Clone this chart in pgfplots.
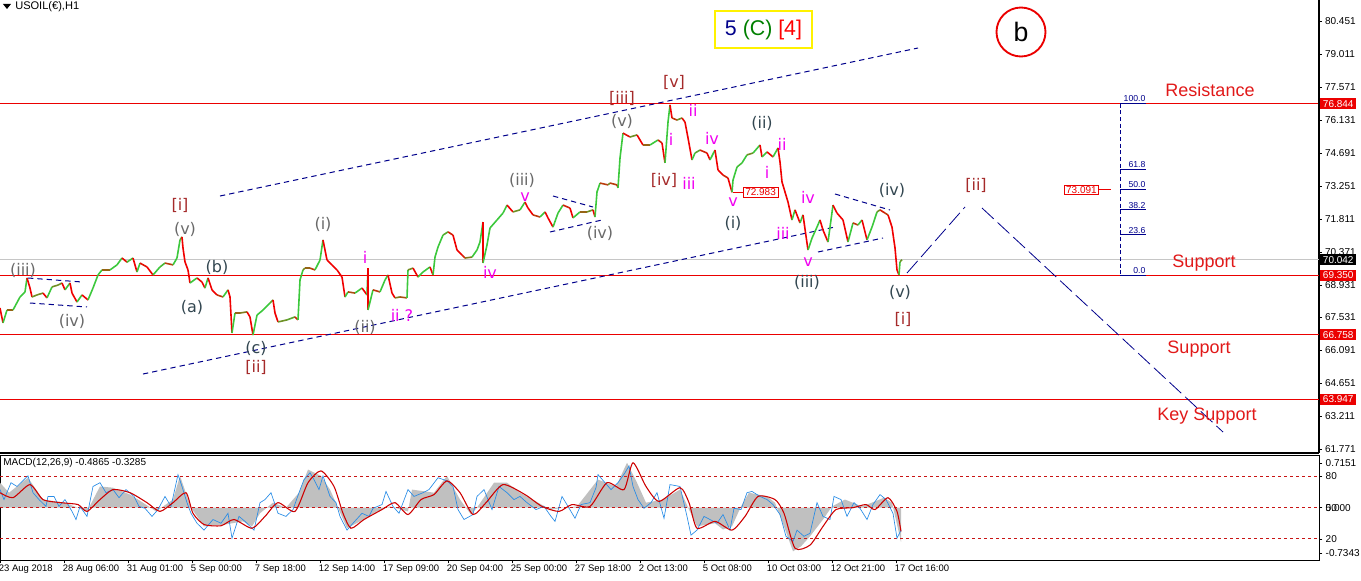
\documentclass[border=0pt]{standalone}
\usepackage{pgfplots}
\pgfplotsset{compat=1.18}
\usepackage{pgfplotstable}
\usepackage{fontspec}
\setmainfont{Liberation Sans}
\newfontfamily\wavefont{DejaVu Sans}

\definecolor{navy}{RGB}{0,0,139}
\definecolor{lvlred}{RGB}{235,0,0}
\definecolor{txtred}{RGB}{225,25,25}
\definecolor{wgray}{RGB}{105,105,105}
\definecolor{wslate}{RGB}{50,70,80}
\definecolor{wbrown}{RGB}{165,42,42}
\definecolor{wmag}{RGB}{240,0,240}
\definecolor{upgreen}{RGB}{60,200,60}
\definecolor{dnred}{RGB}{240,0,0}
\definecolor{barbrown}{RGB}{150,100,20}
\definecolor{oscblue}{RGB}{40,140,230}
\definecolor{sigred}{RGB}{205,0,0}
\definecolor{dashred}{RGB}{200,20,20}
\definecolor{histgray}{RGB}{192,192,192}

\newcommand\pxfont{\fontsize{7.5}{9}\selectfont}
\newcommand\dtfont{\fontsize{7.1}{9}\selectfont}
\newcommand\wfont{\wavefont\fontsize{12}{14}\selectfont}
\newcommand\srfont{\fontsize{13.5}{16}\selectfont}
\newcommand\py[1]{81.367-#1/22.92}

% hourly USOIL path (x = bar slot, y = price)
\pgfplotstableread{
x y
0 67.93
3 67.28
7 67.84
13 67.84
20 68.41
25 68.63
27 69.24
30 68.80
32 68.41
37 68.50
43 68.58
47 68.37
52 68.85
58 68.93
62 69.02
65 68.72
70 69.02
72 68.58
77 68.19
82 68.50
88 68.28
93 68.80
98 69.37
102 69.59
110 69.59
117 69.81
122 70.11
127 69.93
133 70.11
137 69.50
140 69.89
147 69.72
153 69.37
160 69.72
165 69.89
173 69.81
177 70.11
180 70.90
182 71.03
183 70.55
185 69.94
188 69.59
190 69.02
197 69.24
202 69.06
205 68.80
208 69.24
212 68.72
217 68.50
223 68.41
228 68.72
230 68.41
232 66.84
235 67.71
240 67.71
247 67.76
250 67.54
253 66.75
257 67.62
263 67.84
270 68.15
273 68.28
275 67.71
278 67.32
287 67.41
295 67.54
298 67.41
300 69.15
303 69.59
305 69.67
310 69.67
315 69.59
320 70.02
323 70.90
327 70.02
332 69.81
337 69.59
342 69.28
345 68.41
348 68.63
355 68.58
362 68.80
367 68.50
368 69.67
368 67.84
373 68.72
380 68.63
385 69.15
388 69.37
392 68.58
395 68.37
400 68.41
407 68.37
408 69.59
413 69.67
418 69.28
423 69.50
430 69.72
433 69.37
435 70.15
438 70.59
443 71.11
448 71.25
453 71.11
457 70.46
462 70.24
465 70.11
472 70.15
477 70.46
480 70.81
483 71.68
483 69.89
487 70.68
490 71.42
497 71.77
503 72.07
507 72.42
513 72.12
520 72.21
525 72.55
528 72.29
533 71.99
540 71.90
545 72.12
548 71.86
553 71.46
558 72.07
563 72.42
570 72.29
573 71.86
580 72.12
587 72.12
593 72.21
595 71.90
597 72.99
600 73.38
608 73.30
610 73.38
617 73.30
618 73.17
620 74.47
623 75.56
630 75.39
637 75.48
643 75.04
650 75.04
658 75.26
662 75.13
665 74.26
668 76.04
670 76.79
672 76.22
677 76.13
682 76.22
685 76.04
688 75.35
692 74.39
695 74.69
700 74.82
707 74.69
710 74.39
715 74.82
718 73.95
723 73.73
728 73.60
732 72.98
733 73.51
737 74.08
742 74.26
747 74.61
753 74.69
760 75.04
762 74.52
767 74.74
773 74.52
778 74.91
780 74.30
782 73.43
785 72.99
788 72.55
792 71.77
795 72.21
800 71.64
803 71.99
808 70.46
812 70.98
817 71.46
820 71.77
823 71.33
828 70.81
833 72.42
837 72.07
843 71.77
848 70.81
853 71.64
858 71.55
862 71.77
867 70.90
872 71.46
877 72.12
880 72.21
885 72.07
888 71.99
892 71.46
895 70.55
897 69.59
899 69.37
900 69.94
902 70.04
}\price
\pgfplotstablecreatecol[create col/expr={\nextrow{y}-\thisrow{y}}]{d}\price

% MACD panel
\pgfplotstableread{
x y
0 0
0 0.40
9 0.24
28 0.48
43 0.13
65 0.08
87 -0.06
100 0.34
113 0.32
130 0.21
143 0.08
156 -0.06
173 0.13
180 0.51
191 0.00
204 -0.30
225 -0.27
243 -0.22
252 -0.30
260 -0.09
273 0.08
286 0.00
299 0.24
308 0.61
321 0.51
330 0.29
338 0.00
347 -0.33
360 -0.22
377 -0.06
390 0.02
408 -0.06
412 0.29
434 0.24
447 0.51
460 0.13
471 -0.11
477 0.00
494 0.40
507 0.40
520 0.24
538 0.08
551 -0.03
564 0.00
577 0.02
598 0.45
616 0.34
627 0.72
637 0.40
646 0.08
663 0.13
680 0.29
689 -0.03
697 -0.30
715 -0.25
723 -0.35
732 -0.30
741 0.02
749 0.24
767 0.18
775 0.08
784 -0.30
793 -0.70
801 -0.62
810 -0.46
823 -0.19
832 0.02
845 0.13
862 0.02
875 0.10
884 0.16
892 0.08
901 -0.55
901 0
}\hist

\pgfplotstableread{
x y
0 0.24
13 0.16
30 0.37
43 0.13
61 0.08
78 0.05
87 -0.06
100 0.13
113 0.29
130 0.24
147 0.08
160 -0.06
173 0.08
186 0.24
193 -0.09
204 -0.27
221 -0.29
234 -0.19
252 -0.33
265 -0.14
278 0.08
295 -0.06
308 0.40
321 0.59
334 0.34
343 -0.09
351 -0.33
364 -0.19
382 -0.03
395 0.08
408 -0.11
421 0.13
434 0.21
447 0.43
460 0.24
473 -0.11
486 0.08
503 0.37
525 0.21
542 0.02
559 -0.06
572 0.05
590 0.02
607 0.40
624 0.29
633 0.72
646 0.34
659 0.10
680 0.32
689 0.08
697 -0.33
715 -0.22
732 -0.36
745 -0.14
758 0.18
775 0.13
784 -0.09
795 -0.65
810 -0.60
823 -0.30
836 -0.03
853 0.00
866 0.05
875 -0.03
888 0.16
897 -0.06
901 -0.38
}\signal

\pgfplotstableread{
x y
0 0.29
4 0.13
11 0.40
17 0.34
24 0.45
28 0.51
33 0.24
39 0.13
46 0.02
48 0.18
54 0.18
59 0.02
65 0.13
72 -0.06
76 -0.19
80 0.02
87 -0.14
93 0.34
100 0.40
106 0.24
113 0.29
119 0.16
126 0.29
134 0.18
139 0.02
145 -0.01
152 -0.14
158 -0.03
165 0.18
171 0.02
178 0.53
182 0.34
187 0.08
191 -0.09
197 -0.25
204 -0.36
213 -0.19
221 -0.25
228 -0.09
232 -0.49
239 -0.14
245 -0.22
254 -0.36
260 0.08
265 0.13
271 0.24
278 -0.09
286 -0.14
293 -0.03
299 0.24
304 0.45
310 0.56
314 0.45
319 0.29
323 0.51
330 0.18
336 0.08
340 -0.14
347 -0.36
353 -0.25
362 -0.09
369 -0.14
373 -0.01
382 0.05
386 0.26
393 0.02
399 -0.09
408 0.29
414 0.18
423 0.24
429 0.29
438 0.48
447 0.43
453 0.34
458 -0.03
464 -0.19
473 -0.11
477 0.18
484 0.29
492 -0.03
499 0.34
507 0.24
514 0.13
520 0.18
527 0.08
536 -0.03
544 0.02
551 -0.14
555 -0.22
562 0.18
568 0.02
575 -0.17
581 0.05
590 0.08
596 0.32
598 0.53
605 0.40
611 0.29
618 0.40
625 0.56
629 0.67
633 0.34
638 0.13
644 -0.01
651 0.08
657 0.24
664 -0.17
670 0.37
680 0.34
687 -0.14
691 -0.44
697 -0.36
704 -0.14
710 -0.19
717 -0.25
723 -0.11
730 -0.36
734 -0.01
741 -0.03
747 0.24
752 0.26
760 0.18
767 0.13
773 0.05
780 -0.11
786 -0.46
793 -0.54
797 -0.36
804 -0.46
810 -0.41
817 0.08
823 -0.14
830 -0.19
834 0.18
841 0.13
847 -0.14
854 0.08
860 -0.01
867 -0.19
873 0.05
880 0.21
886 0.13
893 -0.09
897 -0.49
901 -0.36
}\osc

\begin{document}
\begin{tikzpicture}
\useasboundingbox (0,0) rectangle (1020.75pt,-435.75pt);

\begin{axis}[
  at={(0,0)}, anchor=north west,
  scale only axis, width=989.25pt, height=339.75pt,
  xmin=0, xmax=1319, ymin=61.603, ymax=81.367,
  axis x line=none, axis y line*=right,
  axis line style={black, line width=0.8pt},
  ytick={80.451,79.011,77.571,76.131,74.691,73.251,71.811,70.371,68.931,67.531,66.091,64.651,63.211,61.771},
  yticklabels={80.451,79.011,77.571,76.131,74.691,73.251,71.811,70.371,68.931,67.531,66.091,64.651,63.211,61.771},
  yticklabel style={font=\pxfont, anchor=west, xshift=-1pt},
  tick style={black, line width=0.5pt}, tick align=outside, major tick length=2pt,
  clip mode=individual,
]
% level lines
\addplot[gray!45, line width=0.75pt] coordinates {(0,70.042) (1319,70.042)};
\addplot[lvlred, line width=0.8pt] coordinates {(0,76.844) (1319,76.844)};
\addplot[lvlred, line width=0.8pt] coordinates {(0,69.350) (1319,69.350)};
\addplot[lvlred, line width=0.8pt] coordinates {(0,66.758) (1319,66.758)};
\addplot[lvlred, line width=0.8pt] coordinates {(0,63.947) (1319,63.947)};

% channels and triangles
\pgfplotsset{chan/.style={navy, line width=0.75pt, dash pattern=on 4pt off 3pt}}
\addplot[chan] coordinates {(220,72.815) (918,79.273)};
\addplot[chan] coordinates {(143,65.049) (835,71.463)};
\addplot[chan] coordinates {(28,69.238) (82,69.064)};
\addplot[chan] coordinates {(30,68.147) (87,67.973)};
\addplot[chan] coordinates {(553,72.815) (593,72.335)};
\addplot[chan] coordinates {(550,71.245) (602,71.769)};
\addplot[chan] coordinates {(835,72.903) (890,72.205)};
\addplot[chan] coordinates {(818,70.372) (883,70.983)};
% projection
\addplot[navy, line width=0.6pt, dash pattern=on 12pt off 4pt] coordinates {(907,69.456) (965,72.336)};
\addplot[navy, line width=0.6pt, dash pattern=on 12pt off 4pt] coordinates {(982,72.292) (1223,62.518)};

% fibonacci
\addplot[navy, line width=0.6pt, densely dashed] coordinates {(1120,76.844) (1120,69.35)};
\foreach \lv/\lb in {76.844/100.0, 73.981/61.8, 73.097/50.0, 72.213/38.2, 71.119/23.6, 69.35/0.0}{
  \edef\tmp{\noexpand\addplot[navy, line width=0.6pt] coordinates {(1120,\lv) (1146,\lv)};}\tmp
  \edef\tmp{\noexpand\node[anchor=south east, text=navy, font=\noexpand\fontsize{6.5}{7}\noexpand\selectfont, inner sep=1pt] at (axis cs:1147,\lv) {\lb};}\tmp
}

% price path
\addplot[mesh, shader=flat corner, line width=1.2pt, point meta=\thisrow{d},
  colormap={updn}{color=(dnred) color=(barbrown) color=(upgreen)},
  point meta min=-0.2, point meta max=0.2] table[x=x, y=y] {\price};

% boxed values
\addplot[lvlred, line width=0.6pt] coordinates {(733,72.983) (743,72.983)};
\node[draw=lvlred, fill=white, text=lvlred, font=\pxfont, inner xsep=1.5pt, inner ysep=1pt, anchor=west] at (axis cs:743,72.983) {72.983};
\addplot[lvlred, line width=0.6pt] coordinates {(1099,73.091) (1111,73.091)};
\node[draw=lvlred, fill=white, text=lvlred, font=\pxfont, inner xsep=1.5pt, inner ysep=1pt, anchor=east] at (axis cs:1099,73.091) {73.091};

% right-hand price boxes
\foreach \lv in {76.844, 69.350, 66.758, 63.947}{
  \edef\tmp{\noexpand\node[fill=lvlred, text=white, font=\noexpand\pxfont, inner xsep=2pt, inner ysep=1.4pt, anchor=west] at (axis cs:1320,\lv) {\lv};}\tmp
}
\node[fill=black, text=white, font=\pxfont, inner xsep=2pt, inner ysep=1.4pt, anchor=west] at (axis cs:1320,70.042) {70.042};
\draw[black, line width=1.8pt] (axis cs:1319,81.367) -- (axis cs:1319,{\py{200}});

% support / resistance text
\node[text=txtred, font=\srfont] at (axis cs:1210,{\py{90}}) {Resistance};
\node[text=txtred, font=\srfont] at (axis cs:1204,{\py{263}}) {Support};
\node[text=txtred, font=\srfont] at (axis cs:1199,{\py{349}}) {Support};
\node[text=txtred, font=\srfont] at (axis cs:1207,{\py{416}}) {Key Support};

% header
\fill (axis cs:3,{\py{4}}) -- (axis cs:11,{\py{4}}) -- (axis cs:7,{\py{9}}) -- cycle;
\node[anchor=west, font=\fontsize{8.3}{9}\selectfont, inner sep=0pt] at (axis cs:15,{\py{7}}) {USOIL(€),H1};
\node[draw=yellow, line width=1.6pt, fill=white, minimum width=72.75pt, minimum height=27.75pt, inner sep=0pt, font=\fontsize{16}{18}\selectfont]
  at (axis cs:763.5,{\py{29.5}}) {\textcolor{navy}{5} \textcolor{green!50!black}{(C)} \textcolor{red}{[4]}};
\node[draw=lvlred, line width=1.4pt, circle, minimum size=36.75pt, inner sep=0pt, font=\fontsize{20}{22}\selectfont]
  at (axis cs:1021,{\py{32}}) {b};

% wave labels
\tikzset{wv/.style={font=\wfont, inner sep=0pt}}
\node[wv, text=wgray] at (axis cs:23,{\py{270}}) {(iii)};
\node[wv, text=wgray] at (axis cs:72,{\py{321}}) {(iv)};
\node[wv, text=wgray] at (axis cs:185,{\py{229}}) {(v)};
\node[wv, text=wbrown] at (axis cs:180,{\py{205}}) {[i]};
\node[wv, text=wslate] at (axis cs:192,{\py{307}}) {(a)};
\node[wv, text=wslate] at (axis cs:217,{\py{267}}) {(b)};
\node[wv, text=wslate] at (axis cs:256,{\py{348}}) {(c)};
\node[wv, text=wbrown] at (axis cs:256,{\py{367}}) {[ii]};
\node[wv, text=wgray] at (axis cs:323,{\py{224}}) {(i)};
\node[wv, text=wmag] at (axis cs:365,{\py{257}}) {i};
\node[wv, text=wgray] at (axis cs:365,{\py{327}}) {(ii)};
\node[wv, text=wmag] at (axis cs:402,{\py{315}}) {ii ?};
\node[wv, text=wmag] at (axis cs:490,{\py{272}}) {iv};
\node[wv, text=wgray] at (axis cs:522,{\py{180}}) {(iii)};
\node[wv, text=wmag] at (axis cs:525,{\py{197}}) {v};
\node[wv, text=wgray] at (axis cs:600,{\py{233}}) {(iv)};
\node[wv, text=wbrown] at (axis cs:622,{\py{98}}) {[iii]};
\node[wv, text=wgray] at (axis cs:622,{\py{121}}) {(v)};
\node[wv, text=wbrown] at (axis cs:674,{\py{82}}) {[v]};
\node[wv, text=wmag] at (axis cs:693,{\py{110}}) {ii};
\node[wv, text=wmag] at (axis cs:671,{\py{139}}) {i};
\node[wv, text=wbrown] at (axis cs:664,{\py{180}}) {[iv]};
\node[wv, text=wmag] at (axis cs:689,{\py{183}}) {iii};
\node[wv, text=wmag] at (axis cs:712,{\py{138}}) {iv};
\node[wv, text=wslate] at (axis cs:762,{\py{123}}) {(ii)};
\node[wv, text=wmag] at (axis cs:782,{\py{144}}) {ii};
\node[wv, text=wmag] at (axis cs:767,{\py{172}}) {i};
\node[wv, text=wmag] at (axis cs:733,{\py{202}}) {v};
\node[wv, text=wslate] at (axis cs:733,{\py{223}}) {(i)};
\node[wv, text=wmag] at (axis cs:808,{\py{197}}) {iv};
\node[wv, text=wmag] at (axis cs:783,{\py{233}}) {iii};
\node[wv, text=wmag] at (axis cs:808,{\py{262}}) {v};
\node[wv, text=wslate] at (axis cs:807,{\py{282}}) {(iii)};
\node[wv, text=wslate] at (axis cs:892,{\py{190}}) {(iv)};
\node[wv, text=wslate] at (axis cs:900,{\py{292}}) {(v)};
\node[wv, text=wbrown] at (axis cs:903,{\py{319}}) {[i]};
\node[wv, text=wbrown] at (axis cs:976,{\py{185}}) {[ii]};

\draw[black, line width=0.8pt] (rel axis cs:0,0) -- (rel axis cs:1,0);
\end{axis}

\begin{axis}[
  at={(0,-341.5pt)}, anchor=north west,
  scale only axis, width=989.25pt, height=78.5pt,
  xmin=0, xmax=1319, ymin=-0.839, ymax=0.839,
  axis line style={black, line width=0.75pt},
  xtick={0,64,...,896},
  xticklabels={23 Aug 2018, 28 Aug 06:00, 31 Aug 01:00, 5 Sep 00:00, 7 Sep 18:00, 12 Sep 14:00, 17 Sep 09:00, 20 Sep 04:00, 25 Sep 00:00, 27 Sep 18:00, 2 Oct 13:00, 5 Oct 08:00, 10 Oct 03:00, 12 Oct 21:00, 17 Oct 16:00},
  xticklabel style={font=\dtfont, anchor=north west, xshift=-2pt, inner sep=1pt},
  xtick pos=lower, ytick pos=right, yticklabel pos=right,
  ytick={0.7151,0.5,0,-0.5,-0.7343},
  yticklabels={0.7151,80,\rlap{50}0.000,20,-0.7343},
  yticklabel style={font=\pxfont, anchor=west, xshift=-1pt},
  tick style={black, line width=0.5pt}, tick align=outside, major tick length=2.5pt,
  clip mode=individual,
]
\addplot[fill=histgray, draw=none] table[x=x, y=y] {\hist} \closedcycle;
\addplot[dashred, line width=0.8pt, dash pattern=on 2.5pt off 2pt] coordinates {(0,0.5) (1319,0.5)};
\addplot[dashred, line width=0.8pt, dash pattern=on 2.5pt off 2pt] coordinates {(0,0) (1319,0)};
\addplot[dashred, line width=0.8pt, dash pattern=on 2.5pt off 2pt] coordinates {(0,-0.5) (1319,-0.5)};
\addplot[oscblue, line width=0.5pt] table[x=x, y=y] {\osc};
\addplot[sigred, line width=0.8pt, smooth, tension=0.4] table[x=x, y=y] {\signal};
\node[anchor=west, font=\pxfont, inner sep=0pt] at (axis cs:3,0.71) {MACD(12,26,9) -0.4865 -0.3285};
\end{axis}
\end{tikzpicture}
\end{document}
